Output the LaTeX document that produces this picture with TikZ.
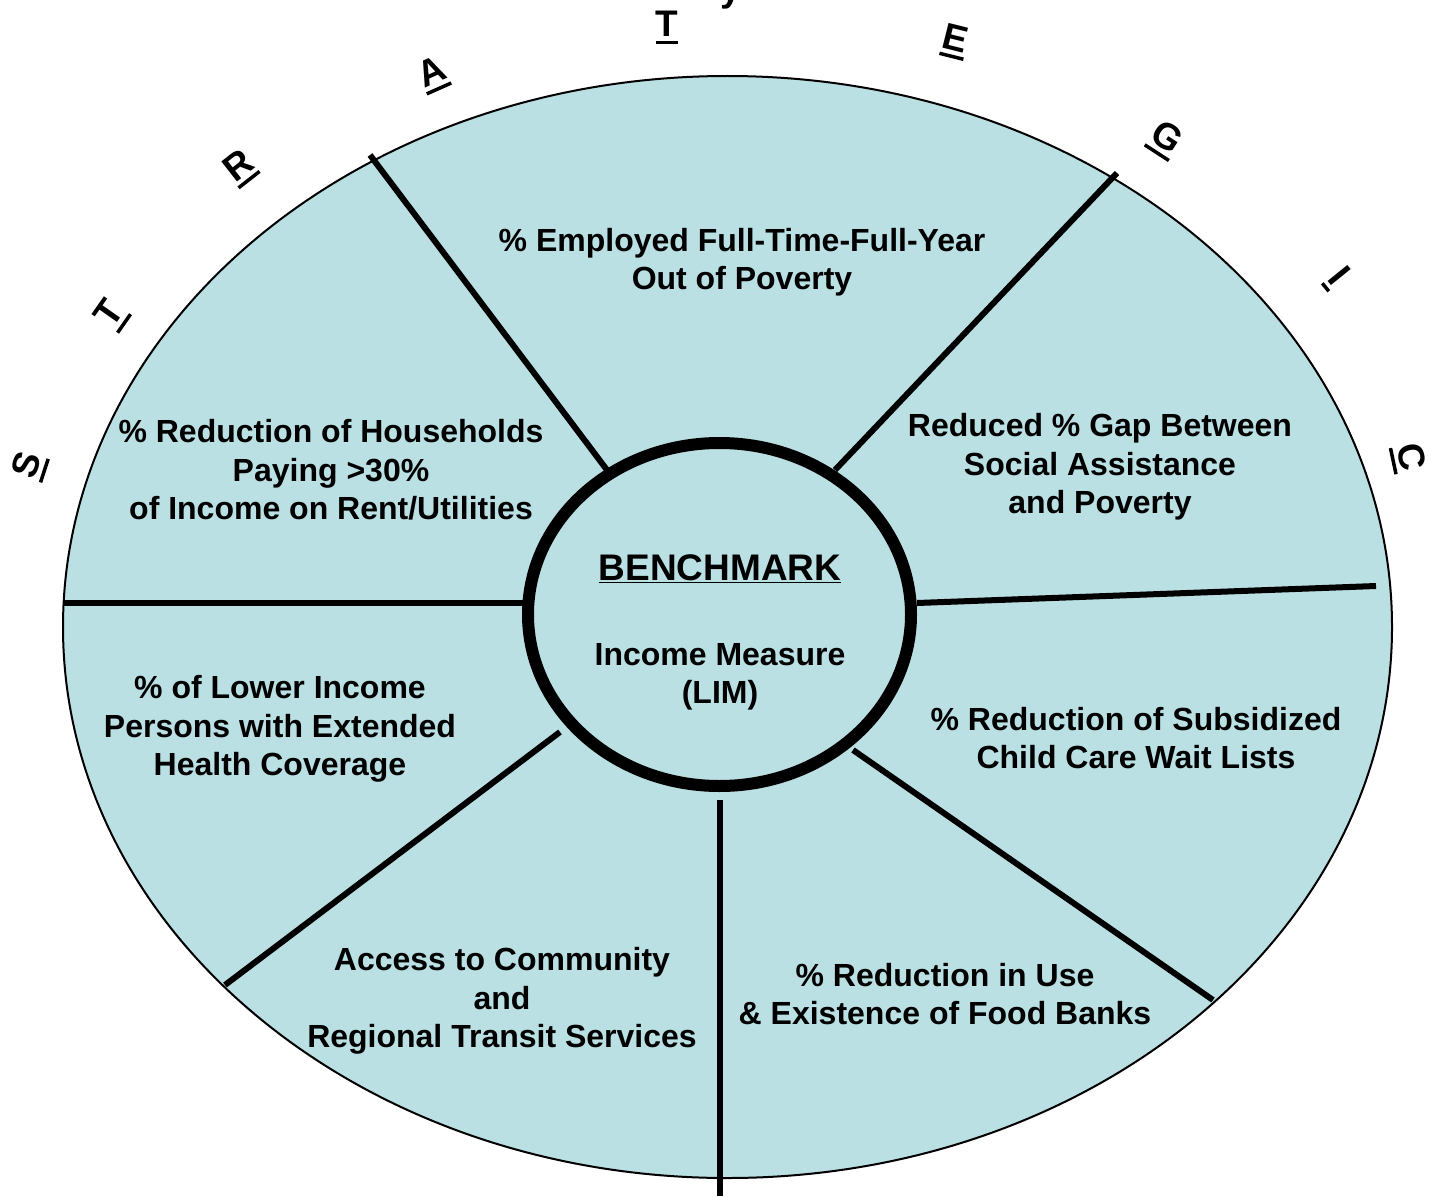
\documentclass[tikz,border=0pt]{standalone}
\usepackage{fontspec}
\setmainfont{Liberation Sans}
\usetikzlibrary{shapes.geometric}
\definecolor{wheelfill}{HTML}{BAE0E4}
\newcommand\ulletter[1]{\vtop{\hbox{#1}\kern4pt\hrule height 3.5pt}}
\begin{document}
\begin{tikzpicture}[x=1pt,y=-1pt,
  segtext/.style={font=\fontsize{32}{38.5}\selectfont\bfseries, align=center, inner sep=0pt},
  ltr/.style={font=\fontsize{37}{40}\selectfont\bfseries, inner sep=0pt},
  spoke/.style={line width=6pt},
]
\useasboundingbox (0,0) rectangle (1431,1196);
% outer wheel
\node[ellipse, draw=black, line width=2pt, fill=wheelfill, minimum width=1329pt, minimum height=1102pt, inner sep=0pt] (wheel) at (727.5,627) {};
% spoke end points
\coordinate (i1) at (607,470);  \coordinate (o1) at (370,155);
\coordinate (i2) at (835,470);  \coordinate (o2) at (1117,173);
\coordinate (i3) at (917,603);  \coordinate (o3) at (1376,586);
\coordinate (i4) at (853,750);  \coordinate (o4) at (1213,1000);
\coordinate (i5) at (720,800);  \coordinate (o5) at (720,1196);
\coordinate (i6) at (560,732);  \coordinate (o6) at (225,985);
\coordinate (i7) at (524,603);  \coordinate (o7) at (63,603);
\foreach \k in {1,...,7} \draw[spoke] (i\k) -- (o\k);
% hub
\node[ellipse, draw=black, line width=12pt, fill=wheelfill, minimum width=383pt, minimum height=343pt, inner sep=0pt] (hub) at (719.5,614.5) {};
\node[font=\fontsize{37}{40}\selectfont\bfseries, inner sep=0pt, anchor=base] (bench) at (720,580) {\underline{BENCHMARK}};
\node[segtext] (lim) at (720,677) {Income Measure\\(LIM)};
% segment texts
\node[segtext] (t1) at (742,262) {\% Employed Full-Time-Full-Year\\Out of Poverty};
\node[segtext] (t2) at (1100,467) {Reduced \% Gap Between\\Social Assistance\\and Poverty};
\node[segtext] (t3) at (1136,738) {\% Reduction of Subsidized\\Child Care Wait Lists};
\node[segtext] (t4) at (945,994) {\% Reduction in Use\\\& Existence of Food Banks};
\node[segtext] (t5) at (502,1001) {Access to Community\\and\\Regional Transit Services};
\node[segtext] (t6) at (280,729) {\% of Lower Income\\Persons with Extended\\Health Coverage};
\node[segtext] (t7) at (331,470) {\% Reduction of Households\\Paying >30\%\\of Income on Rent/Utilities};
% letters around the wheel
\node[ltr, rotate=72]  (L1) at (30,466)   {\ulletter{S}};
\node[ltr, rotate=55]  (L2) at (112,315)  {\ulletter{T}};
\node[ltr, rotate=38]  (L3) at (240,168)  {\ulletter{R}};
\node[ltr, rotate=24]  (L4) at (433,75)   {\ulletter{A}};
\node[ltr, rotate=0]   (L5) at (667,28)   {\ulletter{T}};
\node[ltr, rotate=-14] (L6) at (955,42)   {\ulletter{E}};
\node[ltr, rotate=-33] (L7) at (1165,140) {\ulletter{G}};
\node[ltr, rotate=-51] (L8) at (1337,278) {\ulletter{I}};
\node[ltr, rotate=-78] (L9) at (1408,458) {\ulletter{C}};
\node[ltr, anchor=base] (Ly) at (731,2) {y};
\end{tikzpicture}
\end{document}
